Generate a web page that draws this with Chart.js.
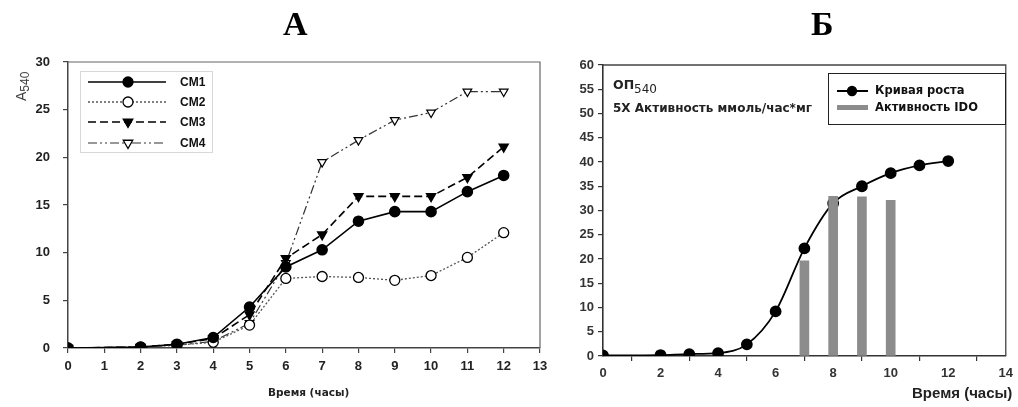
<!DOCTYPE html>
<html>
<head>
<meta charset="utf-8">
<script src="https://cdn.jsdelivr.net/npm/chart.js@4.4.1/dist/chart.umd.min.js"></script>
<style>
  html, body { margin:0; padding:0; background:#fff; }
  body { width:1018px; height:407px; position:relative; overflow:hidden; font-family:"Liberation Sans", Arial, sans-serif; }
  canvas { position:absolute; left:0; top:0; }
  .t { position:absolute; white-space:nowrap; }
  .panel { font-family:"Liberation Serif","DejaVu Serif",serif; font-weight:bold; font-size:34px; color:#000; line-height:1; }
  .dv { font-family:"DejaVu Sans", Verdana, sans-serif; }
</style>
</head>
<body>
<canvas id="cA" width="1018" height="407"></canvas>
<canvas id="cB" width="1018" height="407"></canvas>

<div class="t panel" style="left:283px; top:7px;">А</div>
<div class="t panel" style="left:811px; top:7px;">Б</div>

<div class="t" style="left:1px; top:73px; width:40px; transform:rotate(-90deg); transform-origin:20px 8px; font-size:14px; color:#444; line-height:16px;">A<sub style="font-size:12px; vertical-align:-3px;">540</sub></div>
<div class="t dv" style="left:268px; top:386px; font-size:10.5px; font-weight:bold; color:#222;">Время (часы)</div>

<div class="t dv" style="left:613px; top:78px; font-size:12.5px; font-weight:bold; color:#222; line-height:14px;">ОП<sub style="font-size:12px; font-weight:normal; vertical-align:-4px;">540</sub></div>
<div class="t dv" style="left:613px; top:101px; font-size:12px; font-weight:bold; color:#222;">5X Активность ммоль/час*мг</div>
<div class="t" style="left:912px; top:384px; font-size:15px; font-weight:bold; color:#222;">Время (часы)</div>

<script>
// ---------- Panel A data ----------
const hoursA = [0, 2, 3, 4, 5, 6, 7, 8, 9, 10, 11, 12];
const cm1 = [0, 0.1, 0.4, 1.1, 4.3, 8.5, 10.3, 13.3, 14.3, 14.3, 16.4, 18.1];
const cm2 = [0, 0.1, 0.3, 0.6, 2.4, 7.3, 7.5, 7.4, 7.1, 7.6, 9.5, 12.1];
const cm3 = [0, 0.1, 0.4, 1.0, 3.5, 9.4, 11.9, 15.9, 15.9, 15.9, 17.9, 21.1];
const cm4 = [0, 0.1, 0.3, 0.7, 2.6, 8.9, 19.5, 21.8, 23.9, 24.7, 26.9, 26.9];
const seriesNamesA = ["CM1", "CM2", "CM3", "CM4"];
const xTicksA = [0, 1, 2, 3, 4, 5, 6, 7, 8, 9, 10, 11, 12, 13];
const yTicksA = [0, 5, 10, 15, 20, 25, 30];

// ---------- Panel B data ----------
const hoursB = [0, 2, 3, 4, 5, 6, 7, 8, 9, 10, 11, 12];
const growth = [0.1, 0.2, 0.4, 0.6, 2.4, 9.2, 22.2, 31.5, 35.0, 37.7, 39.3, 40.2];
const idoHours = [7, 8, 9, 10];
const idoActivity = [19.6, 32.9, 32.8, 32.1];
const seriesNamesB = ["Кривая роста", "Активность IDO"];
const xTicksB = [0, 2, 4, 6, 8, 10, 12, 14];
const yTicksB = [0, 5, 10, 15, 20, 25, 30, 35, 40, 45, 50, 55, 60];

const pts = (xs, ys) => xs.map((x, i) => ({ x: x, y: ys[i] }));

function drawMarker(ctx, style, x, y, r, fill, rotationDeg) {
  ctx.save();
  ctx.beginPath();
  if (style === 'circle') {
    ctx.arc(x, y, r, 0, Math.PI * 2);
  } else {
    const rot = (rotationDeg || 0) * Math.PI / 180;
    for (let k = 0; k < 3; k++) {
      const a = rot - Math.PI / 2 + k * 2 * Math.PI / 3;
      const px = x + Math.cos(a) * r * 1.1, py = y + Math.sin(a) * r * 1.1;
      if (k === 0) ctx.moveTo(px, py); else ctx.lineTo(px, py);
    }
    ctx.closePath();
  }
  ctx.fillStyle = fill;
  ctx.fill();
  ctx.lineWidth = 1.3;
  ctx.strokeStyle = '#000';
  ctx.setLineDash([]);
  ctx.stroke();
  ctx.restore();
}

// frame (top + right border) plugin
const framePlugin = {
  id: 'frame',
  beforeDatasetsDraw(chart, args, opts) {
    const a = chart.chartArea, ctx = chart.ctx;
    ctx.save();
    ctx.strokeStyle = opts.color || '#555';
    ctx.lineWidth = opts.width || 1.2;
    ctx.beginPath();
    ctx.moveTo(a.left, a.top);
    ctx.lineTo(a.right, a.top);
    ctx.lineTo(a.right, a.bottom);
    ctx.stroke();
    ctx.restore();
  }
};

// ---------- Legend for panel A ----------
const legendA = {
  id: 'legendA',
  afterDraw(chart) {
    const ctx = chart.ctx;
    ctx.save();
    ctx.strokeStyle = '#d8d8d8';
    ctx.lineWidth = 1;
    ctx.strokeRect(80.5, 71.5, 132, 81);
    const rows = [82, 102, 122, 143];
    chart.data.datasets.forEach((ds, i) => {
      const y = rows[i];
      ctx.save();
      ctx.strokeStyle = ds.borderColor;
      ctx.lineWidth = ds.borderWidth;
      ctx.setLineDash(ds.borderDash || []);
      ctx.beginPath();
      ctx.moveTo(88, y);
      ctx.lineTo(166, y);
      ctx.stroke();
      ctx.restore();
      drawMarker(ctx, ds.pointStyle, 128, y, 5, ds.pointBackgroundColor, ds.pointRotation);
      ctx.fillStyle = '#111';
      ctx.font = 'bold 12px "Liberation Sans", Arial, sans-serif';
      ctx.textBaseline = 'middle';
      ctx.fillText(ds.label, 180, y + 0.5);
    });
    ctx.restore();
  }
};

const tickFontA = { family: '"Liberation Sans", Arial, sans-serif', size: 13, weight: 'bold' };

new Chart(document.getElementById('cA'), {
  type: 'line',
  data: {
    datasets: [
      { label: seriesNamesA[0], data: pts(hoursA, cm1), borderColor: '#000', borderWidth: 1.6, borderDash: [],
        pointStyle: 'circle', pointRadius: 5, pointBackgroundColor: '#000', pointBorderColor: '#000', pointRotation: 0 },
      { label: seriesNamesA[1], data: pts(hoursA, cm2), borderColor: '#555', borderWidth: 1.3, borderDash: [2, 2],
        pointStyle: 'circle', pointRadius: 5, pointBackgroundColor: '#fff', pointBorderColor: '#000', pointRotation: 0 },
      { label: seriesNamesA[2], data: pts(hoursA, cm3), borderColor: '#000', borderWidth: 1.6, borderDash: [8, 4],
        pointStyle: 'triangle', pointRadius: 5, pointBackgroundColor: '#000', pointBorderColor: '#000', pointRotation: 180 },
      { label: seriesNamesA[3], data: pts(hoursA, cm4), borderColor: '#333', borderWidth: 1.2, borderDash: [9, 3, 2, 3, 2, 3],
        pointStyle: 'triangle', pointRadius: 5, pointBackgroundColor: '#fff', pointBorderColor: '#000', pointRotation: 180 }
    ]
  },
  options: {
    responsive: false,
    animation: false,
    events: [],
    layout: { autoPadding: false, padding: { left: 0, top: 62, right: 478, bottom: 0 } },
    plugins: { legend: { display: false }, tooltip: { enabled: false }, frame: { color: '#666', width: 1.2 } },
    elements: { line: { tension: 0 }, point: { borderWidth: 1.3 } },
    scales: {
      x: {
        type: 'linear', min: 0, max: 13, offset: false,
        afterFit(s) { s.height = 59; },
        afterBuildTicks(s) { s.ticks = xTicksA.map(v => ({ value: v })); },
        grid: { drawOnChartArea: false, drawTicks: true, tickLength: 5, color: '#444', lineWidth: 1.2 },
        border: { display: true, color: '#444', width: 1.5 },
        ticks: { font: tickFontA, color: '#222', padding: 6, maxRotation: 0, autoSkip: false }
      },
      y: {
        type: 'linear', min: 0, max: 30,
        afterFit(s) { s.width = 68; },
        afterBuildTicks(s) { s.ticks = yTicksA.map(v => ({ value: v })); },
        grid: { drawOnChartArea: false, drawTicks: true, tickLength: 5, color: '#444', lineWidth: 1.2 },
        border: { display: true, color: '#444', width: 1.5 },
        ticks: { font: tickFontA, color: '#222', padding: 13, autoSkip: false }
      }
    }
  },
  plugins: [framePlugin, legendA]
});

// ---------- Legend for panel B ----------
const legendB = {
  id: 'legendB',
  afterDraw(chart) {
    const ctx = chart.ctx;
    ctx.save();
    ctx.strokeStyle = '#222';
    ctx.lineWidth = 1;
    ctx.strokeRect(828.5, 73.5, 177, 51);
    const line = chart.data.datasets.find(d => d.type === 'line');
    const bar = chart.data.datasets.find(d => d.type === 'bar');
    ctx.strokeStyle = line.borderColor;
    ctx.lineWidth = 2;
    ctx.beginPath(); ctx.moveTo(837, 91); ctx.lineTo(868, 91); ctx.stroke();
    drawMarker(ctx, 'circle', 852, 91, 4.5, '#000', 0);
    ctx.fillStyle = bar.backgroundColor;
    ctx.fillRect(837, 105, 31, 5);
    ctx.fillStyle = '#111';
    ctx.font = 'bold 11.5px "DejaVu Sans", Verdana, sans-serif';
    ctx.textBaseline = 'middle';
    ctx.fillText(line.label, 875, 91);
    ctx.fillText(bar.label, 875, 108);
    ctx.restore();
  }
};

const tickFontB = { family: '"Liberation Sans", Arial, sans-serif', size: 13, weight: 'bold' };

new Chart(document.getElementById('cB'), {
  data: {
    datasets: [
      { type: 'bar', label: seriesNamesB[1], data: pts(idoHours, idoActivity), backgroundColor: '#8c8c8c',
        borderWidth: 0, barThickness: 9, grouped: false, order: 0 },
      { type: 'line', label: seriesNamesB[0], data: pts(hoursB, growth), borderColor: '#000', borderWidth: 1.8,
        cubicInterpolationMode: 'monotone', pointStyle: 'circle', pointRadius: 5, pointBackgroundColor: '#000',
        pointBorderColor: '#000', order: 1 }
    ]
  },
  options: {
    responsive: false,
    animation: false,
    events: [],
    layout: { autoPadding: false, padding: { left: 553, top: 65, right: 11, bottom: 0 } },
    plugins: { legend: { display: false }, tooltip: { enabled: false }, frame: { color: '#444', width: 1.3 } },
    scales: {
      x: {
        type: 'linear', min: 0, max: 14, offset: false,
        afterFit(s) { s.height = 51; },
        afterBuildTicks(s) { s.ticks = xTicksB.map(v => ({ value: v })); },
        grid: { drawOnChartArea: false, drawTicks: true, tickLength: 5, color: '#333', lineWidth: 1.2 },
        border: { display: true, color: '#333', width: 1.6 },
        ticks: { font: tickFontB, color: '#333', padding: 5, maxRotation: 0, autoSkip: false }
      },
      y: {
        type: 'linear', min: 0, max: 60,
        afterFit(s) { s.width = 50; },
        afterBuildTicks(s) { s.ticks = yTicksB.map(v => ({ value: v })); },
        grid: { drawOnChartArea: false, drawTicks: true, tickLength: 5, color: '#333', lineWidth: 1.2 },
        border: { display: true, color: '#333', width: 1.6 },
        ticks: { font: tickFontB, color: '#333', padding: 4, autoSkip: false }
      }
    }
  },
  plugins: [framePlugin, legendB]
});
</script>
</body>
</html>
